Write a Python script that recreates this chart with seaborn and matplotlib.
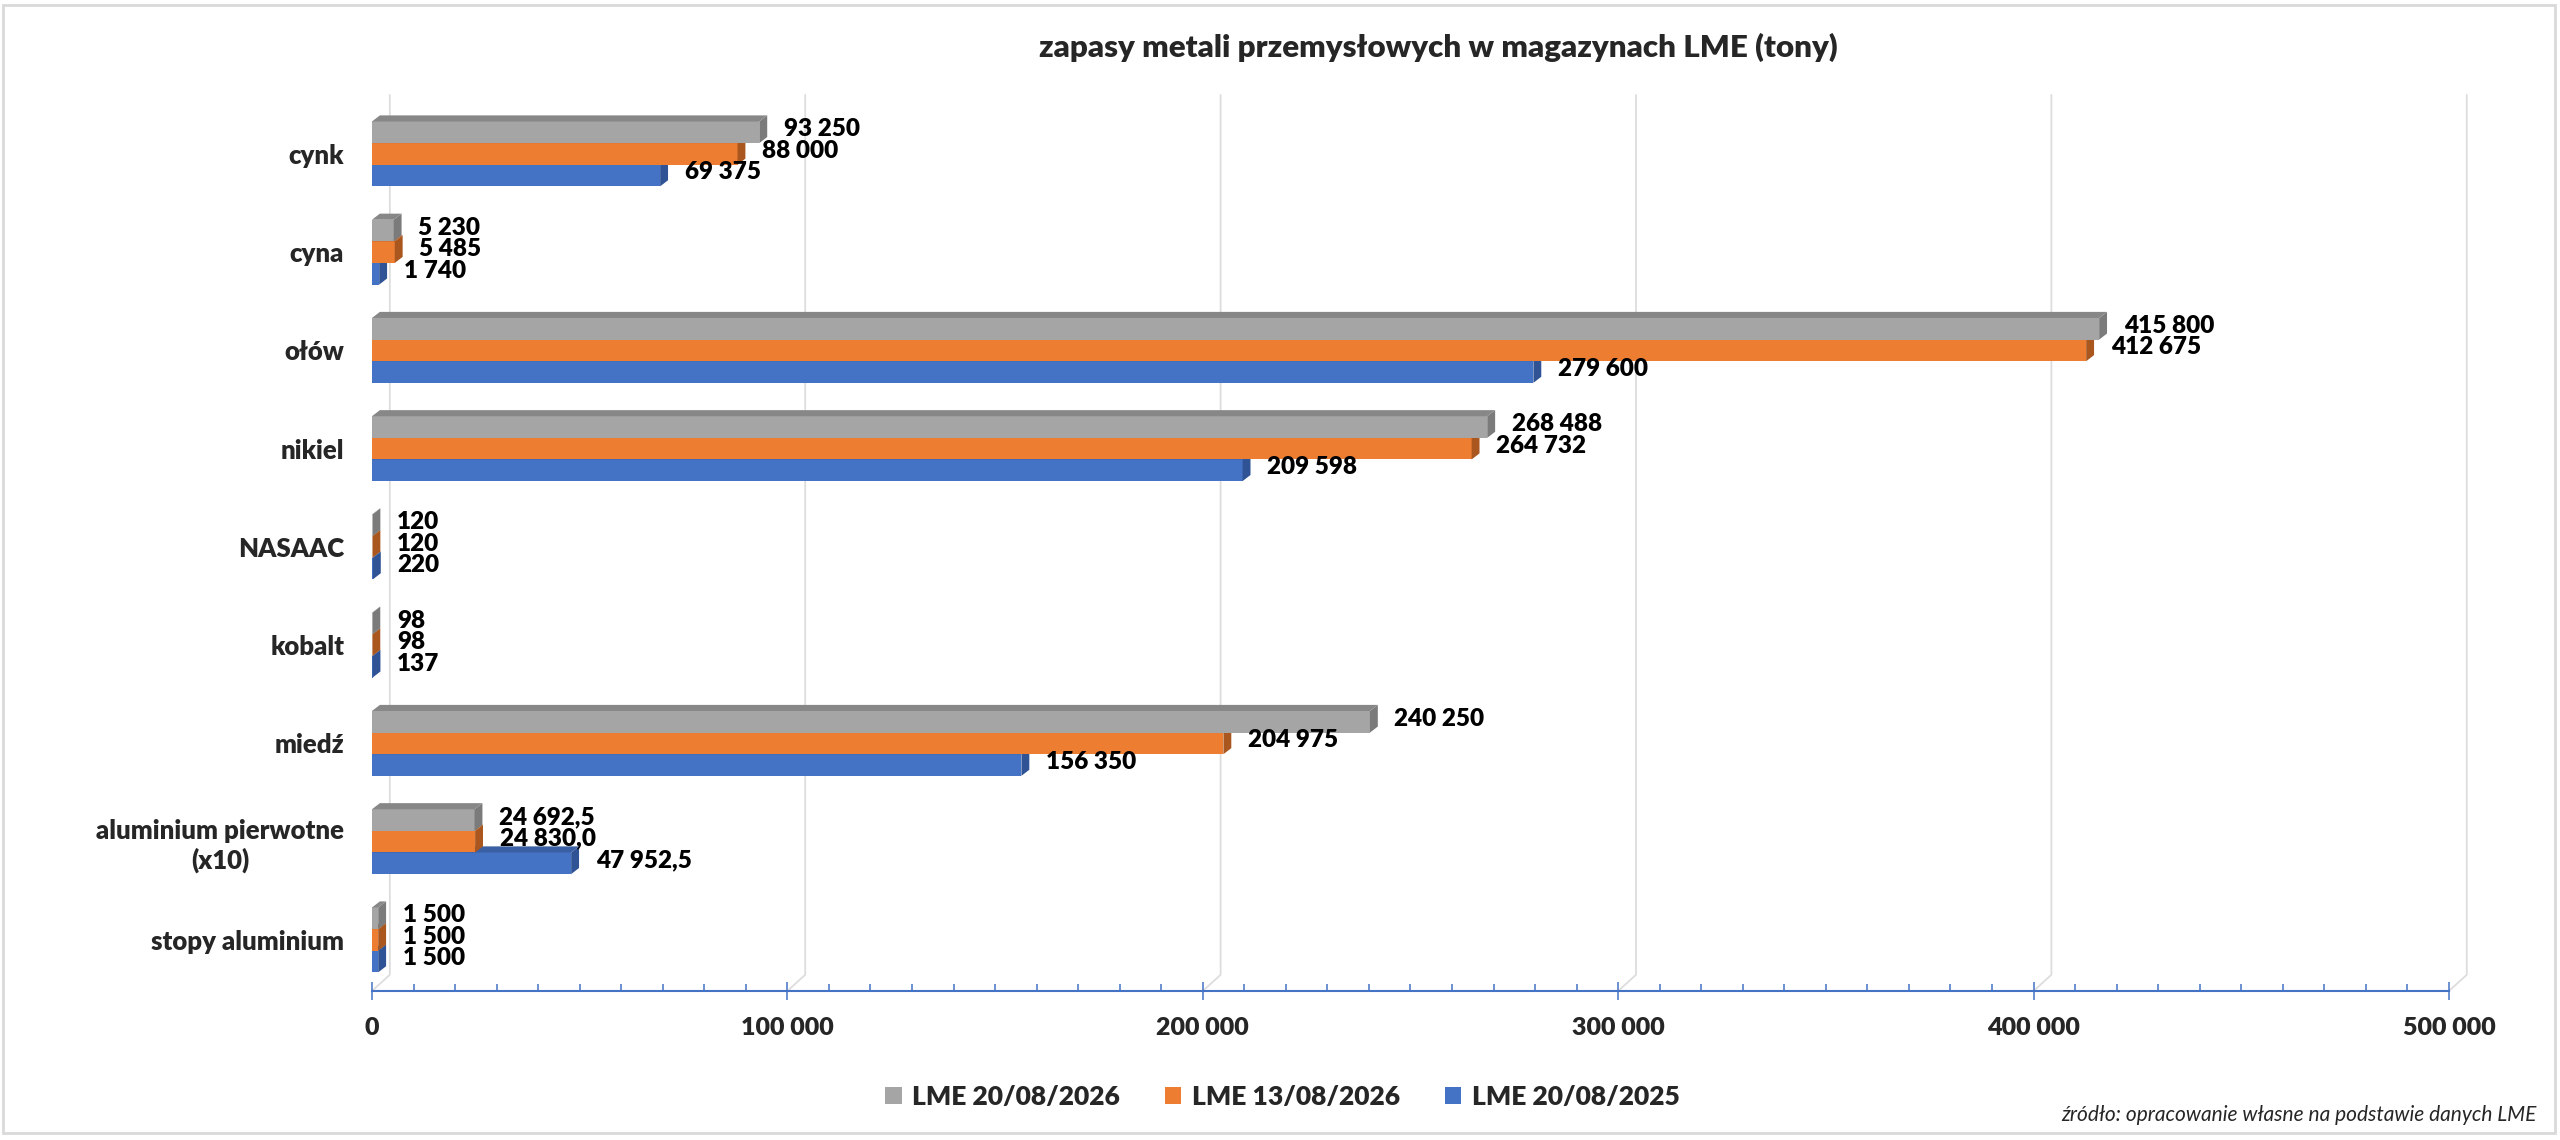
import pandas as pd
import seaborn as sns
import matplotlib.pyplot as plt
from matplotlib.patches import Polygon, Patch, Rectangle
from matplotlib.ticker import MultipleLocator, FuncFormatter

# dane: zapasy LME (tony)
categories = ["cynk", "cyna", "ołów", "nikiel", "NASAAC", "kobalt", "miedź",
              "aluminium pierwotne\n(x10)", "stopy aluminium"]
lme_2026_08_20 = [93250, 5230, 415800, 268488, 120, 98, 240250, 24692.5, 1500]
lme_2026_08_13 = [88000, 5485, 412675, 264732, 120, 98, 204975, 24830.0, 1500]
lme_2025_08_20 = [69375, 1740, 279600, 209598, 220, 137, 156350, 47952.5, 1500]
series = ["LME 20/08/2026", "LME 13/08/2026", "LME 20/08/2025"]
decimal_cats = ["aluminium pierwotne\n(x10)"]

colors = ["#A5A5A5", "#ED7D31", "#4472C4"]
side_colors = ["#7B7B7B", "#A9561F", "#2F5394"]
top_colors = ["#878787", "#B8612A", "#3A60A3"]
W = 800  # grubosc czcionki

df = pd.DataFrame({"metal": categories,
                   series[0]: lme_2026_08_20,
                   series[1]: lme_2026_08_13,
                   series[2]: lme_2025_08_20})
long_df = df.melt(id_vars="metal", var_name="seria", value_name="tony")

sns.set_theme(style="white")
plt.rcParams["font.family"] = ["Lato", "DejaVu Sans"]

fig = plt.figure(figsize=(25.6, 11.4), dpi=100)
ax = fig.add_axes([0.1453, 0.1307, 0.8113, 0.786])

sns.barplot(data=long_df, x="tony", y="metal", hue="seria", hue_order=series,
            order=categories, palette=colors, orient="h", width=0.66,
            saturation=1, errorbar=None, linewidth=0, ax=ax)
ax.get_legend().remove()

y_bot, y_top = 8.52, -0.60
ax.set_xlim(0, 500000)
ax.set_ylim(y_bot, y_top)

# efekt 3D: boki i wierzch slupkow
dx = 1900
dy = 0.062
for k, cont in enumerate(ax.containers):
    z = 2 + (2 - k) * 0.2
    for patch, val, cat in zip(cont.patches, df[series[k]], categories):
        patch.set_zorder(z)
        x0 = patch.get_x()
        x1 = x0 + patch.get_width()
        yt = patch.get_y()
        yb = yt + patch.get_height()
        side = Polygon([(x1, yb), (x1, yt), (x1 + dx, yt - dy), (x1 + dx, yb - dy)],
                       closed=True, facecolor=side_colors[k], edgecolor="none", zorder=z + 0.1)
        top = Polygon([(x0, yt), (x1, yt), (x1 + dx, yt - dy), (x0 + dx, yt - dy)],
                      closed=True, facecolor=top_colors[k], edgecolor="none", zorder=z + 0.1)
        ax.add_patch(side)
        ax.add_patch(top)
        if cat in decimal_cats:
            txt = f"{val:,.1f}".replace(",", " ").replace(".", ",")
        else:
            txt = f"{val:,.0f}".replace(",", " ")
        ax.annotate(txt, (x1 + dx, (yt + yb) / 2 - dy / 2), xytext=(12, 0),
                    textcoords="offset points", ha="left", va="center",
                    fontsize=17.5, fontweight=W, color="black", zorder=5)

# os x
ax.xaxis.set_major_locator(MultipleLocator(100000))
ax.xaxis.set_minor_locator(MultipleLocator(10000))
ax.xaxis.set_major_formatter(FuncFormatter(lambda v, p: f"{v:,.0f}".replace(",", " ")))
ax.tick_params(axis="x", which="major", direction="inout", length=13, width=1.1,
               color="#4472C4", pad=12, labelsize=18, bottom=True)
ax.tick_params(axis="x", which="minor", direction="in", length=5, width=1.1,
               color="#4472C4", bottom=True)
for lab in ax.get_xticklabels():
    lab.set_fontweight(W)
ax.tick_params(axis="y", length=0, pad=20, labelsize=18.5)
for lab in ax.get_yticklabels():
    lab.set_fontweight(W)
    lab.set_multialignment("center")

for s in ["top", "right", "left"]:
    ax.spines[s].set_visible(False)
ax.spines["bottom"].set_color("#4472C4")
ax.spines["bottom"].set_linewidth(1.5)
ax.set_xlabel("")
ax.set_ylabel("")

# linie siatki z przesunieciem jak w wykresie 3D
gx, gy = 4300, 0.165
for v in range(0, 500001, 100000):
    ax.plot([v, v + gx, v + gx], [y_bot, y_bot - gy, y_top], color="#DDDDDD",
            lw=1.3, zorder=0.5, clip_on=False)

fig.text(0.562, 0.958, "zapasy metali przemysłowych w magazynach LME (tony)",
         ha="center", va="center", fontsize=22.5, fontweight=W)

handles = [Patch(facecolor=c, edgecolor="none") for c in colors]
fig.legend(handles, series, loc="center", bbox_to_anchor=(0.501, 0.0377), ncol=3,
           frameon=False, prop={"weight": W, "size": 19}, handlelength=0.62,
           handleheight=0.62, handletextpad=0.4, columnspacing=1.7)

fig.text(0.991, 0.022, "źródło: opracowanie własne na podstawie danych LME",
         ha="right", va="center", fontsize=15, style="italic")

fig.patches.append(Rectangle((0.001, 0.006), 0.997, 0.99, transform=fig.transFigure,
                             fill=False, edgecolor="#D9D9D9", lw=2))

plt.savefig("out.png", dpi=100)
